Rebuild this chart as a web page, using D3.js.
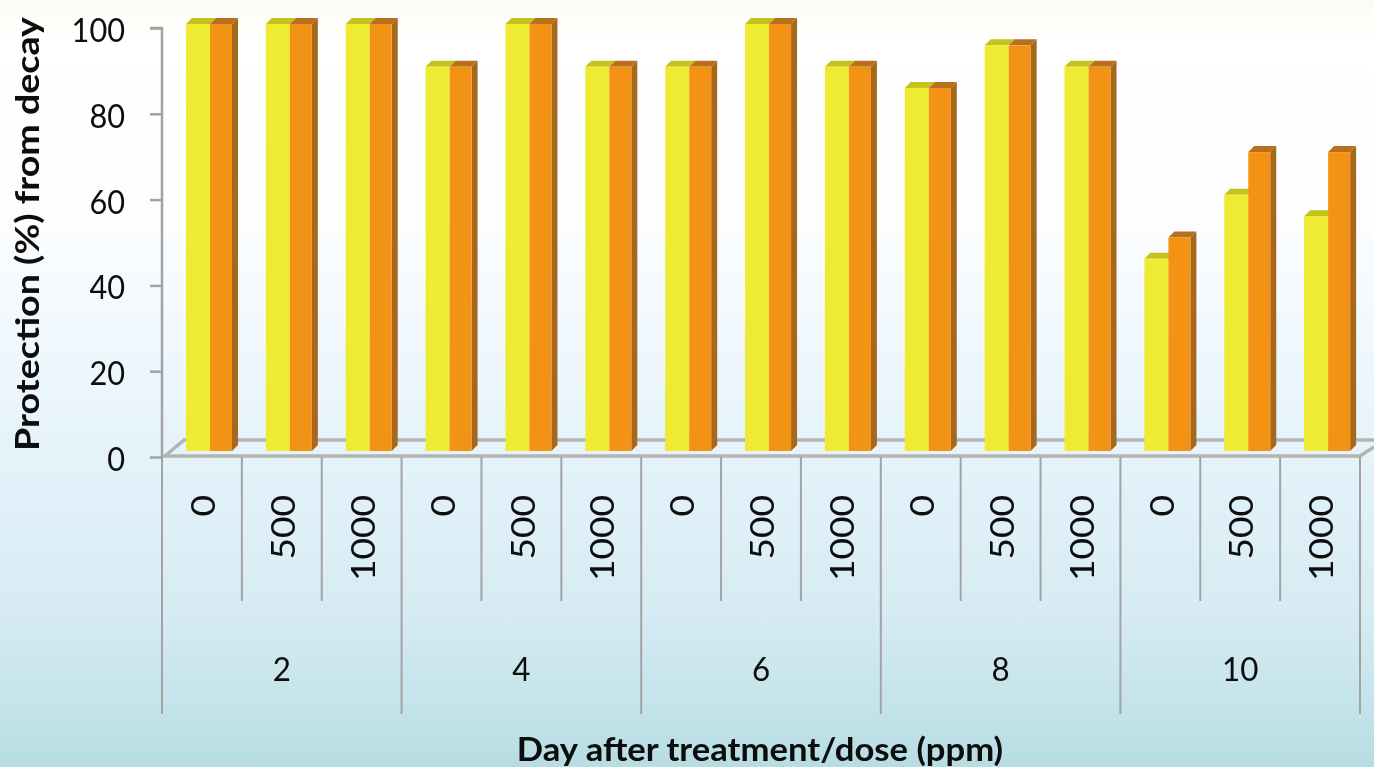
<!DOCTYPE html>
<html><head><meta charset="utf-8">
<script src="https://cdn.jsdelivr.net/npm/d3@7"></script>
<style>html,body{margin:0;padding:0;overflow:hidden;background:#fff}svg{display:block}</style>
</head><body><svg id="c" width="1374" height="767"></svg>
<script>
const days = ["2","4","6","8","10"];
const doses = ["0","500","1000"];
const yellowValues = [100,100,100,90,100,90,90,100,90,85,95,90,45,60,55];
const orangeValues = [100,100,100,90,100,90,90,100,90,85,95,90,50,70,70];
const yTicks = [0,20,40,60,80,100];
const yTitle = "Protection (%) from decay";
const xTitle = "Day after treatment/dose (ppm)";

const W = 1374, H = 767;
const left = 162, right = 1360, y0 = 457, y100 = 28;
const keys = days.flatMap(d => doses.map(s => d + "|" + s));
const x = d3.scaleBand().domain(keys).range([left, right]);
const y = d3.scaleLinear().domain([0,100]).range([y0, y100]);
const barY = d3.scaleLinear().domain([0,100]).range([451, 24]);
const dayX = d3.scaleBand().domain(days).range([left, right]);
const font = "Lato, 'Open Sans', sans-serif";
const axisCol = "#a3a3a3";
const stretch = (sel, f) => sel.each(function(){
  d3.select(this).attr("textLength", this.getComputedTextLength()*f).attr("lengthAdjust","spacingAndGlyphs");
});

const svg = d3.select("#c");
const defs = svg.append("defs");
const g = defs.append("linearGradient").attr("id","bg").attr("x1",0).attr("y1",0).attr("x2",0).attr("y2",1);
[[0,"#fcfcf6"],[0.06,"#ffffff"],[0.3,"#fbfdff"],[0.55,"#e8f4fc"],[0.8,"#d6ebf3"],[0.92,"#c4e3ea"],[1,"#b6dde3"]]
  .forEach(([o,c]) => g.append("stop").attr("offset",o).attr("stop-color",c));
defs.append("filter").attr("id","soft").append("feGaussianBlur").attr("stdDeviation",0.7);
svg.append("rect").attr("width",W).attr("height",H).attr("fill","url(#bg)");

const root = svg.append("g").attr("filter","url(#soft)");

// floor of the 3D plot
const dx = 6, dy = 6, floorD = 17;
const floor = root.append("g").attr("fill","none").attr("stroke","#b4b4b0").attr("stroke-width",3.5);
floor.append("path").attr("d",`M${left+3},${y0-1}L${left+22},${y0-floorD}H${W}`);
floor.append("path").attr("d",`M${left},${y0-1}H${right}L${W},${y0-10}`);

// axes
const ya = root.append("g").attr("transform",`translate(${left},0)`)
  .call(d3.axisLeft(y).tickValues(yTicks).tickSize(12).tickPadding(25));
ya.select(".domain").attr("stroke",axisCol).attr("stroke-width",2.5).attr("d",`M-12,${y100}H0V${y0}`);
ya.selectAll(".tick line").attr("stroke",axisCol).attr("stroke-width",2.5);
ya.selectAll(".tick text").attr("fill","#0a0a0a").attr("font-family",font).attr("font-size",33).attr("dy","0.41em").call(stretch,0.93);

// bars
const barG = root.append("g").attr("stroke-linejoin","round");
const yw = 24, ow = 22, off = 24;
keys.forEach((k,i) => {
  const bx = x(k) + off;
  const mk = (xa, w, v, front, topc, side) => {
    const t = barY(v), b = barY(0);
    barG.append("path").attr("fill",topc).attr("d",`M${xa},${t}L${xa+dx},${t-dy}H${xa+w+dx}L${xa+w},${t}Z`);
    if (side) barG.append("path").attr("fill",side).attr("d",`M${xa+w},${t}L${xa+w+dx},${t-dy}V${b-dy}L${xa+w},${b}Z`);
    barG.append("rect").attr("x",xa).attr("y",t).attr("width",w).attr("height",b-t).attr("fill",front);
  };
  mk(bx, yw, yellowValues[i], "#efea33", "#c3c31e", null);
  mk(bx+yw, ow, orangeValues[i], "#f39317", "#b9701f", "#a8681f");
});

// category axis
const ax = root.append("g").attr("stroke",axisCol).attr("stroke-width",2);
keys.forEach((k,i) => {
  if (i % 3 === 0) return;
  ax.append("line").attr("x1",x(k)).attr("x2",x(k)).attr("y1",y0).attr("y2",601);
});
days.concat("end").forEach(d => {
  const px = d === "end" ? right : dayX(d);
  ax.append("line").attr("x1",px).attr("x2",px).attr("y1",y0).attr("y2",714);
});
const labels = root.append("g").attr("fill","#0a0a0a").attr("font-family",font);
keys.forEach(k => {
  const px = x(k) + x.bandwidth()/2 + 2, lab = k.split("|")[1];
  labels.append("text").attr("transform",`translate(${px},495) rotate(-90)`)
    .attr("text-anchor","end").attr("dy","0.35em").attr("font-size",32).text(lab).call(stretch,1.16);
});
days.forEach(d => {
  labels.append("text").attr("x",dayX(d)+dayX.bandwidth()/2).attr("y",669)
    .attr("text-anchor","middle").attr("dy","0.35em").attr("font-size",33).text(d).call(stretch,0.95);
});
labels.append("text").attr("x",760).attr("y",749).attr("text-anchor","middle").attr("dy","0.35em")
  .attr("font-size",33).attr("font-weight",700).text(xTitle).call(stretch,1.05);
labels.append("text").attr("transform",`translate(27,234) rotate(-90)`).attr("text-anchor","middle").attr("dy","0.35em")
  .attr("font-size",33).attr("font-weight",700).text(yTitle).call(stretch,1.14);
</script></body></html>
